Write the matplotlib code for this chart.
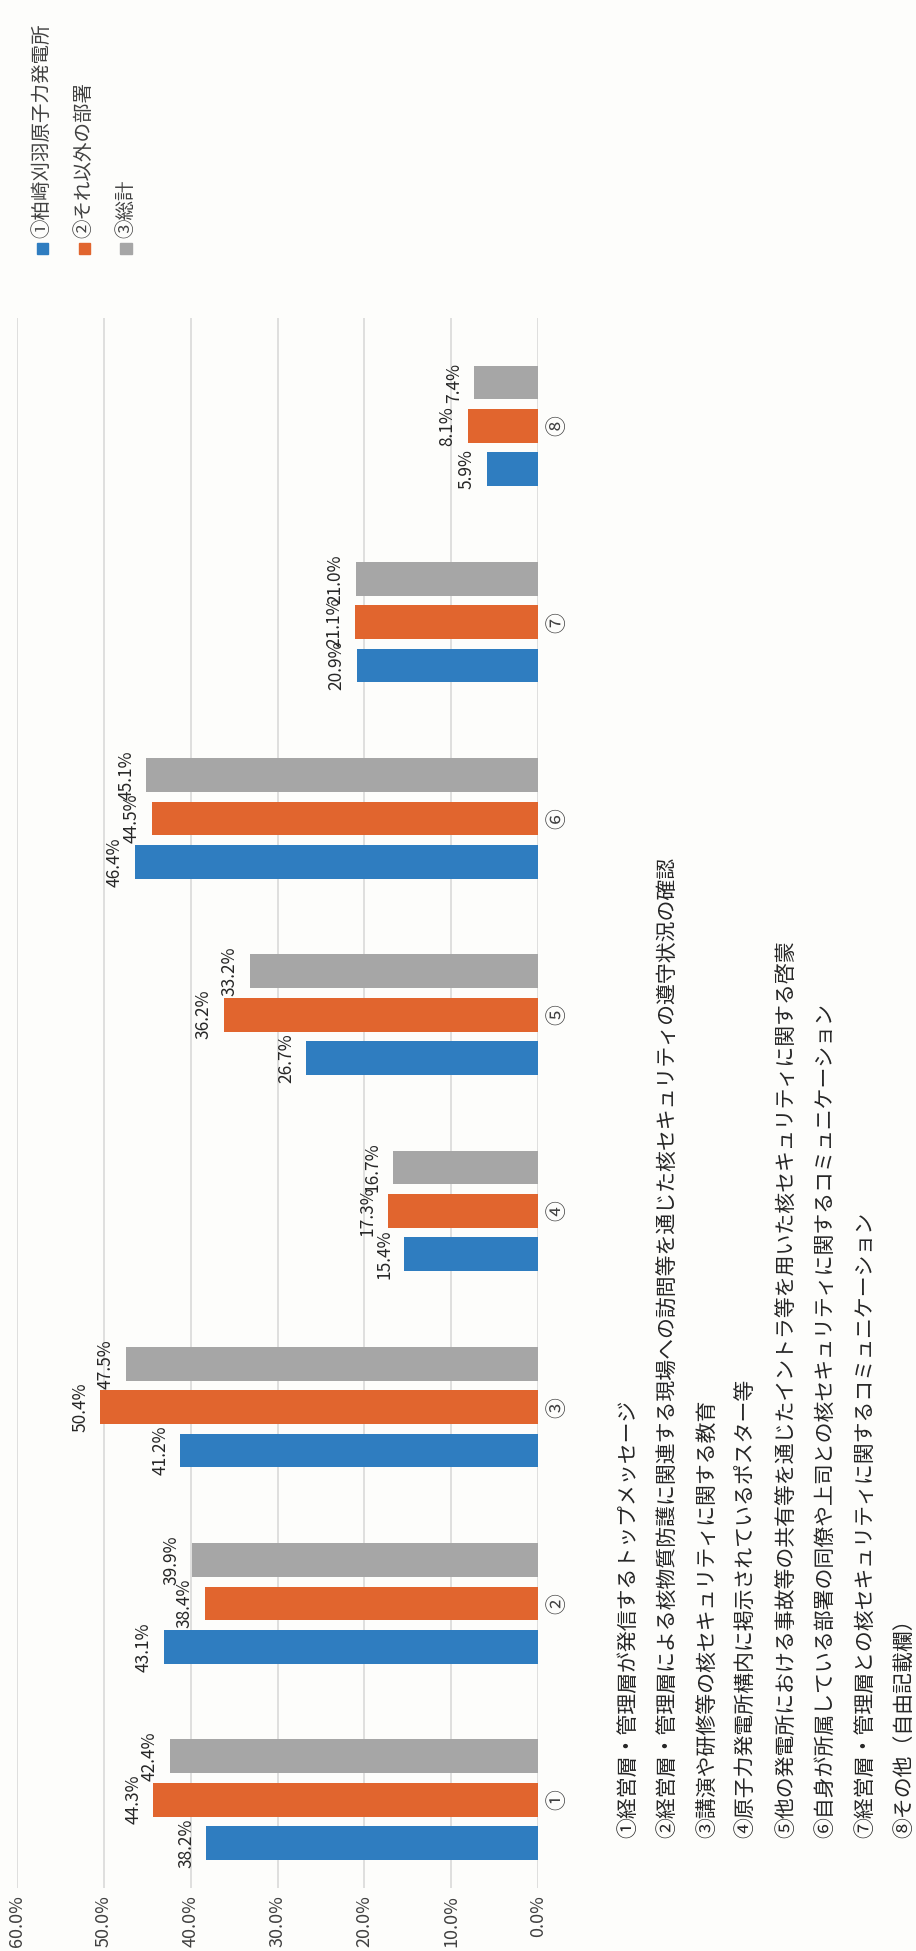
import matplotlib
matplotlib.use("Agg")
import matplotlib.pyplot as plt
import numpy as np
from matplotlib.patches import Rectangle

plt.rcParams['font.family'] = ['Noto Sans CJK JP', 'DejaVu Sans']

# 設問の選択肢（①〜⑧）
categories = ["①", "②", "③", "④", "⑤", "⑥", "⑦", "⑧"]
category_texts = [
    "①経営層・管理層が発信するトップメッセージ",
    "②経営層・管理層による核物質防護に関連する現場への訪問等を通じた核セキュリティの遵守状況の確認",
    "③講演や研修等の核セキュリティに関する教育",
    "④原子力発電所構内に掲示されているポスター等",
    "⑤他の発電所における事故等の共有等を通じたイントラ等を用いた核セキュリティに関する啓蒙",
    "⑥自身が所属している部署の同僚や上司との核セキュリティに関するコミュニケーション",
    "⑦経営層・管理層との核セキュリティに関するコミュニケーション",
    "⑧その他（自由記載欄）",
]

series_names = ["①柏崎刈羽原子力発電所", "②それ以外の部署", "③総計"]
kk = [38.2, 43.1, 41.2, 15.4, 26.7, 46.4, 20.9, 5.9]
others = [44.3, 38.4, 50.4, 17.3, 36.2, 44.5, 21.1, 8.1]
total = [42.4, 39.9, 47.5, 16.7, 33.2, 45.1, 21.0, 7.4]

colors = ["#2f7dc0", "#e1652e", "#a6a6a6"]
value_ticks = [0, 10, 20, 30, 40, 50, 60]

W, H = 916, 1951
fig = plt.figure(figsize=(W / 100, H / 100), dpi=100, facecolor="#fdfdfb")

# 横置きの棒グラフ（値は右から左へ伸びる）
ax = fig.add_axes([17 / W, 1 - 1888 / H, (538 - 17) / W, (1888 - 318) / H])
ax.set_facecolor("none")

pos = np.arange(len(categories))
bar_h = 0.172
step = 0.221
for k, (vals, name) in enumerate(zip([kk, others, total], series_names)):
    y = pos + (k - 1) * step
    ax.barh(y, vals, height=bar_h, color=colors[k], label=name, zorder=3)
    for yy, v in zip(y, vals):
        ax.annotate(f"{v:.1f}%", xy=(v, yy), xytext=(-11, 0),
                    textcoords="offset pixels", rotation=90,
                    ha="right", va="center", fontsize=12.5, color="#262626")

ax.set_xlim(0, 60)
ax.invert_xaxis()
ax.set_ylim(-0.45, len(categories) - 0.45)

ax.set_xticks(value_ticks)
ax.set_xticklabels([f"{t:.1f}%" for t in value_ticks], rotation=90,
                   fontsize=13, color="#404040")
ax.tick_params(axis="x", length=0, pad=5)

ax.yaxis.tick_right()
ax.set_yticks(pos)
ax.set_yticklabels(categories, rotation=90, fontsize=15, color="#404040",
                   va="center", ha="center")
ax.tick_params(axis="y", length=0, pad=14)

ax.grid(axis="x", color="#d9d9d9", linewidth=1.2, zorder=0)
for s in ax.spines.values():
    s.set_visible(False)

# 凡例（縦書き方向に回転）
leg_x = [42, 84, 126]
for k, name in enumerate(series_names):
    fig.patches.append(Rectangle(((leg_x[k] - 5.5) / W, 1 - 254 / H),
                                 11 / W, 11 / H, transform=fig.transFigure,
                                 color=colors[k]))
    fig.text(leg_x[k] / W, 1 - 238 / H, name, rotation=90, ha="center",
             va="bottom", fontsize=14, color="#404040")

# 選択肢の説明文
for i, t in enumerate(category_texts):
    fig.text((628 + 39.5 * i) / W, 1 - 1838 / H, t, rotation=90,
             ha="center", va="bottom", fontsize=15, color="#262626")

fig.savefig("out.png", dpi=100, facecolor=fig.get_facecolor())
